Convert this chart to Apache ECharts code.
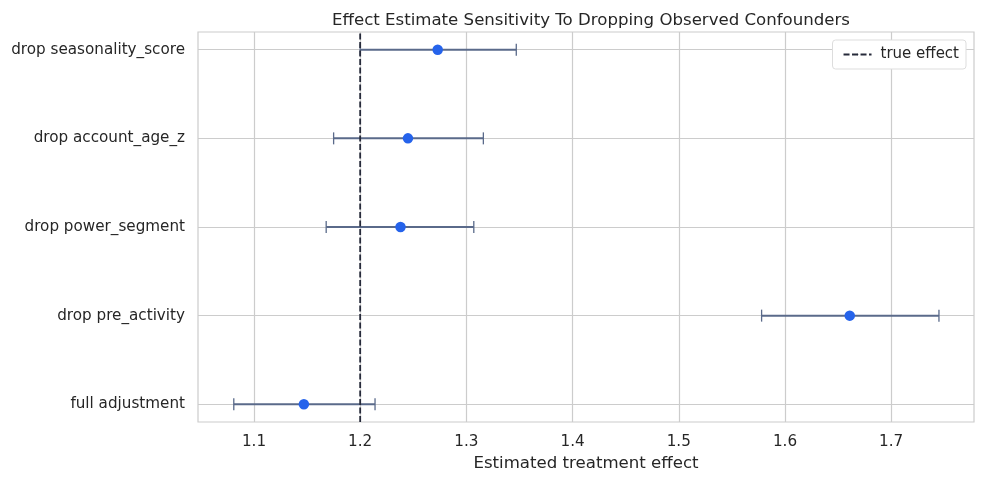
<!DOCTYPE html>
<html><head><meta charset="utf-8">
<script src="https://cdn.jsdelivr.net/npm/echarts@6/dist/echarts.min.js"></script>
<style>html,body{margin:0;padding:0;background:#fff}#c{width:984px;height:484px}</style>
</head><body><div id="c"></div>
<script>
const categories = ["full adjustment","drop pre_activity","drop power_segment","drop account_age_z","drop seasonality_score"];
const estimates = [1.147, 1.661, 1.238, 1.245, 1.273];
const lower = [1.081, 1.578, 1.168, 1.175, 1.200];
const upper = [1.214, 1.745, 1.307, 1.316, 1.347];
const trueEffect = 1.2;
const xTicks = [1.1, 1.2, 1.3, 1.4, 1.5, 1.6, 1.7];
const yTicks = [0, 1, 2, 3, 4];

const font = "DejaVu Sans";
const chart = echarts.init(document.getElementById('c'));
chart.setOption({
  animation: false,
  title: {text: "Effect Estimate Sensitivity To Dropping Observed Confounders", left: 586, top: 7, textAlign: 'center',
    textStyle: {fontFamily: font, fontSize: 16.6, fontWeight: 'normal', color: '#262626'}},
  grid: {left: 198, right: 10, top: 32, bottom: 62, show: true, borderColor: '#cccccc', borderWidth: 1.2},
  legend: {data: [{name: 'true effect'}], right: 18, top: 40, orient: 'vertical',
    backgroundColor: '#fff', borderColor: '#dddddd', borderWidth: 1, borderRadius: 3, padding: [7, 7, 7, 10],
    itemWidth: 28, itemHeight: 2, itemGap: 6,
    textStyle: {fontFamily: font, fontSize: 15, color: '#262626', padding: [0, 0, 0, 4]}},
  xAxis: {type: 'value', min: 1.0473, max: 1.778,
    name: 'Estimated treatment effect', nameLocation: 'middle', nameGap: 33,
    nameTextStyle: {fontFamily: font, fontSize: 16.6, color: '#262626'},
    axisLine: {show: false}, axisTick: {show: false, customValues: xTicks},
    axisLabel: {customValues: xTicks, fontFamily: font, fontSize: 15.2, color: '#262626', margin: 13,
      formatter: v => v.toFixed(1)},
    splitLine: {show: true, lineStyle: {color: '#cccccc', width: 1.2}}},
  yAxis: {type: 'value', min: -0.2, max: 4.2,
    axisLine: {show: false}, axisTick: {show: false, customValues: yTicks},
    axisLabel: {customValues: yTicks, fontFamily: font, fontSize: 15.2, color: '#262626', margin: 13,
      formatter: v => categories[Math.round(v)] || ''},
    splitLine: {show: true, lineStyle: {color: '#cccccc', width: 1.2}}},
  series: [
    {type: 'custom', name: 'ci', z: 3,
      data: categories.map((c, i) => [lower[i], upper[i], i]),
      renderItem: function (params, api) {
        const lo = api.coord([api.value(0), api.value(2)]);
        const hi = api.coord([api.value(1), api.value(2)]);
        const h = 6;
        const style = {stroke: '#5a6a8a', lineWidth: 2, fill: null};
        return {type: 'group', children: [
          {type: 'line', shape: {x1: lo[0], y1: lo[1], x2: hi[0], y2: hi[1]}, style},
          {type: 'line', shape: {x1: lo[0], y1: lo[1] - h, x2: lo[0], y2: lo[1] + h}, style: {stroke: '#5a6a8a', lineWidth: 1.3}},
          {type: 'line', shape: {x1: hi[0], y1: hi[1] - h, x2: hi[0], y2: hi[1] + h}, style: {stroke: '#5a6a8a', lineWidth: 1.3}}
        ]};
      }},
    {type: 'scatter', name: 'estimate', z: 5, symbolSize: 10.5,
      itemStyle: {color: '#2563eb', opacity: 1},
      data: categories.map((c, i) => [estimates[i], i])},
    {type: 'line', name: 'true effect', z: 4, symbol: 'none',
      legendIcon: 'path://M0,0h5v2h-5z M8,0h5v2h-5z M16,0h5v2h-5z M24,0h5v2h-5z',
      lineStyle: {color: '#262a3a', width: 1.8, type: [6, 2.5]},
      itemStyle: {color: '#262a3a'},
      data: [[trueEffect, -0.2], [trueEffect, 4.2]]}
  ]
});
</script></body></html>
